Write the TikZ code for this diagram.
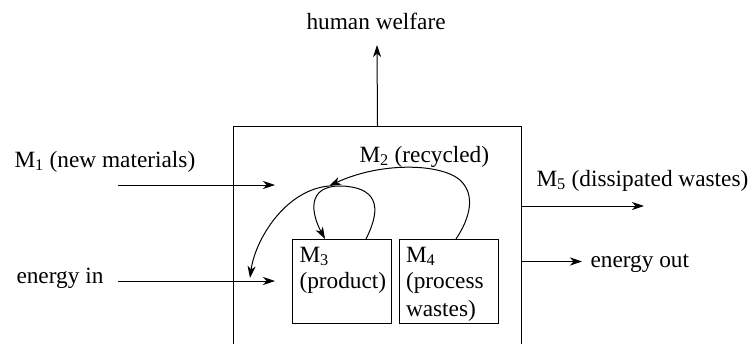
\documentclass[tikz,border=0pt]{standalone}
\usepackage{fontspec}
\setmainfont{Liberation Serif}
\newfontfamily\tms{Liberation Serif}
\usetikzlibrary{arrows.meta}
\begin{document}
\begin{tikzpicture}[x=1pt,y=-1pt,line width=1pt,
  arr/.style={-{Stealth[length=12pt,width=8pt,inset=3.5pt]}},
  lbl/.style={anchor=base west,inner sep=0pt,font=\tms\fontsize{23.3pt}{28pt}\selectfont},
  boxnode/.style={draw,anchor=north west,inner sep=0pt,minimum width=#1,minimum height=84pt}]
\useasboundingbox (0,0) rectangle (754,343);
\clip (0,0) rectangle (754,343);
% system box (open at the bottom edge of the picture)
\node[draw,anchor=north west,inner sep=0pt,minimum width=288pt,minimum height=240pt] (sys) at (233,126) {};
% inner boxes
\node[boxnode=99pt] (m3box) at (292,239) {};
\node[boxnode=99pt] (m4box) at (399,239) {};
% labels
\node[lbl] (hw) at (306,29.5) {human welfare};
\node[lbl] (m1) at (14,167) {M\textsubscript{1} (new materials)};
\node[lbl] (m2) at (359,162) {M\textsubscript{2} (recycled)};
\node[lbl] (m5) at (536,186) {M\textsubscript{5} (dissipated wastes)};
\node[lbl] (ein) at (16,283) {energy in};
\node[lbl] (eout) at (590,267) {energy out};
\node[lbl] (m3a) at (299,262) {M\textsubscript{3}};
\node[lbl] (m3b) at (299,288) {(product)};
\node[lbl] (m4a) at (405.5,262) {M\textsubscript{4}};
\node[lbl] (m4b) at (405.5,288) {(process};
\node[lbl] (m4c) at (405.5,316) {wastes)};
% coordinates
\coordinate (hwtip) at (377,45);
\coordinate (m1s) at (118,185);
\coordinate (m1e) at (275,185);
\coordinate (eins) at (118,281);
\coordinate (eine) at (275,281);
\coordinate (m5s) at (521,206);
\coordinate (m5e) at (644,206);
\coordinate (eouts) at (521,261.5);
\coordinate (eoute) at (582,261.5);
\coordinate (J) at (329,186);
\coordinate (etip) at (250,278);
% straight arrows
\draw[arr] (sys.north) -- (hwtip);
\draw[arr] (m1s) -- (m1e);
\draw[arr] (eins) -- (eine);
\draw[arr] (m5s) -- (m5e);
\draw[arr] (eouts) -- (eoute);
% recycled curve from M4 to junction
\draw[arr] (m4box.north -| 456,0) .. controls (470,218) and (476,195) .. (460,180)
  .. controls (440,163) and (380,162) .. (J);
% loop above M3
\draw[arr] (m3box.north -| 366,0) .. controls (378,215) and (384,188) .. (342,186)
  .. controls (305,185) and (312,215) .. (m3box.north -| 325,0);
% curve from junction to energy in
\draw[arr] (J) .. controls (285,190) and (255,240) .. (etip);
\end{tikzpicture}
\end{document}
